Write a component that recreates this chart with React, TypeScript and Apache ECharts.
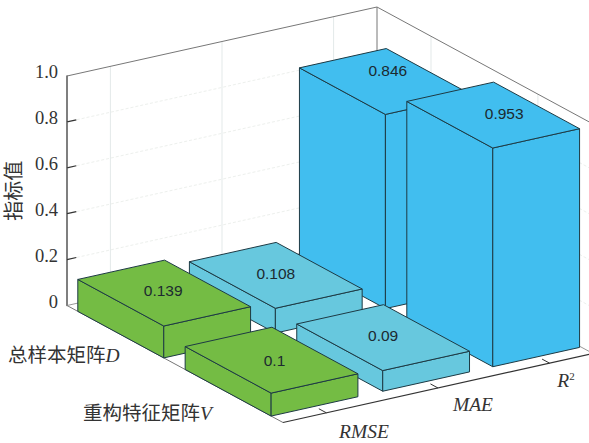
import React, { useEffect, useRef } from "react";
import * as echarts from "echarts";

const rowNames = ["总样本矩阵", "重构特征矩阵"];
const rowSymbols = ["D", "V"];
const metricNames = ["RMSE", "MAE", "R"];
const zTicks = [0, 0.2, 0.4, 0.6, 0.8, 1.0];
// values[row][metric]
const sampleMatrixValues = [0.139, 0.108, 0.846];
const featureMatrixValues = [0.1, 0.09, 0.953];

// Oblique projection of the box: "b" runs along the metric edge (through the
// x axis), "a" along the row edge, the height through the y axis.
const ROW_DX = 216;
const ROW_DY = 117;
const METRIC_DY = -69;

const rowSpans = [[0.05, 0.448], [0.547, 0.945]];
const metricSpans = [[0, 0.28], [0.36, 0.64], [0.715, 0.995]];
const metricCenters = [0.14, 0.5, 0.86];
const rowCenters = [0.25, 0.745];

const barColors = ["#74BC44", "#67C8DE", "#41BEEF"];
const labelNudge: Record<string, [number, number]> = {
  "0-0": [-1, -3],
  "0-1": [0, -2],
  "0-2": [2, -11],
  "1-0": [3, 0],
  "1-1": [0, -2],
  "1-2": [11, -2],
};

const SERIF = '"Liberation Serif", "Noto Sans CJK SC", serif';

function projector(api: any) {
  return (a: number, b: number, z: number): [number, number] => {
    const p = api.coord([b, z]);
    return [p[0] + a * ROW_DX, p[1] + a * ROW_DY + b * METRIC_DY];
  };
}

const seg = (p: number[], q: number[], stroke: string, width = 1, dash?: number[]) => ({
  type: "line",
  shape: { x1: p[0], y1: p[1], x2: q[0], y2: q[1] },
  style: { stroke, lineWidth: width, lineDash: dash, fill: null },
});

function renderFrame(_: any, api: any) {
  const P = projector(api);
  const children: any[] = [];
  const wall = "#e3e9e9";
  const gridH = "#edf0ed";

  // Wall gridlines
  metricCenters.forEach((b) => children.push(seg(P(0, b, 0), P(0, b, 1), wall)));
  rowCenters.forEach((a) => children.push(seg(P(a, 1, 0), P(a, 1, 1), wall)));
  zTicks.slice(1, -1).forEach((z) => {
    children.push(seg(P(0, 0, z), P(0, 1, z), gridH, 1, [3, 2]));
    children.push(seg(P(0, 1, z), P(1, 1, z), gridH, 1, [3, 2]));
  });

  // Floor outline
  children.push(seg(P(0, 0, 0), P(0, 1, 0), "#999"));
  children.push(seg(P(0, 1, 0), P(1, 1, 0), "#999"));
  children.push(seg(P(0, 0, 0), P(1, 0, 0), "#777"));
  children.push(seg(P(1, 0, 0), P(1, 1, 0), "#333", 1.2));

  // Top frame of the walls
  children.push(seg(P(0, 0, 1), P(0, 1, 1), "#777"));
  children.push(seg(P(0, 1, 1), P(1, 1, 1), "#777"));
  children.push(seg(P(0, 1, 0), P(0, 1, 1), "#777"));

  // Height ticks point into the wall, metric ticks into the floor
  zTicks.slice(1, -1).forEach((z) => children.push(seg(P(0, 0, z), P(0, 0.03, z), "#333", 1.2)));
  metricCenters.forEach((b) => children.push(seg(P(1, b, 0), P(0.965, b, 0), "#333", 1)));

  return { type: "group", children };
}

function renderBar(_: any, api: any) {
  const P = projector(api);
  const r = api.value(0);
  const m = api.value(1);
  const v = api.value(2);
  const [a0, a1] = rowSpans[r];
  const [b0, b1] = metricSpans[m];
  const fill = barColors[m];
  const edge = "#1d3a44";
  const face = (pts: number[][]) => ({
    type: "polygon",
    shape: { points: pts },
    style: { fill, stroke: edge, lineWidth: 1, lineJoin: "round" },
  });
  const center = P((a0 + a1) / 2, (b0 + b1) / 2, v);
  const nudge = labelNudge[`${r}-${m}`];
  return {
    type: "group",
    children: [
      face([P(a0, b0, 0), P(a1, b0, 0), P(a1, b0, v), P(a0, b0, v)]),
      face([P(a1, b0, 0), P(a1, b1, 0), P(a1, b1, v), P(a1, b0, v)]),
      face([P(a0, b0, v), P(a1, b0, v), P(a1, b1, v), P(a0, b1, v)]),
      {
        type: "text",
        style: {
          text: String(v),
          x: center[0] + nudge[0],
          y: center[1] + nudge[1],
          align: "center",
          verticalAlign: "middle",
          fill: "#1c2a30",
          font: '15.5px "Liberation Sans", Arial, sans-serif',
        },
      },
    ],
  };
}

function App() {
  const ref = useRef<HTMLDivElement>(null);

  useEffect(() => {
    const chart = echarts.init(ref.current!, null, { renderer: "svg" });
    // Painter's order: far row first, and within a row the far metric first
    const barData: number[][] = [];
    [sampleMatrixValues, featureMatrixValues].forEach((vals, r) => {
      [2, 1, 0].forEach((m) => barData.push([r, m, vals[m]]));
    });
    const serifRich = {
      c: { fontFamily: SERIF, fontSize: 19.5, fill: "#333", color: "#333" },
      i: { fontFamily: SERIF, fontSize: 19.5, fontStyle: "italic", fill: "#333", color: "#333" },
      s: { fontFamily: SERIF, fontSize: 11, fill: "#333", color: "#333", padding: [0, 0, 9, 0] },
    };
    const catText = (i: number, x: number, y: number) => ({
      type: "text",
      x,
      y,
      style: {
        text: `{c|${rowNames[i]}}{i|${rowSymbols[i]}}`,
        rich: serifRich,
        align: "left",
        verticalAlign: "middle",
      },
    });
    const metricText = (text: string, x: number, y: number) => ({
      type: "text",
      x,
      y,
      style: {
        text,
        rich: serifRich,
        align: "center",
        verticalAlign: "middle",
      },
    });
    chart.setOption({
      animation: false,
      backgroundColor: "#fff",
      grid: { left: 67, top: 76, width: 310, height: 229.5, outerBoundsMode: "none" },
      xAxis: { type: "value", min: 0, max: 1, show: false },
      yAxis: {
        type: "value",
        min: 0,
        max: 1,
        interval: 0.2,
        name: "指标值",
        nameLocation: "middle",
        nameGap: 37,
        nameRotate: 90,
        nameTextStyle: { fontFamily: SERIF, fontSize: 20, color: "#333" },
        axisLine: { show: true, lineStyle: { color: "#555", width: 1.5 } },
        axisTick: { show: false },
        splitLine: { show: false },
        axisLabel: {
          color: "#333",
          fontFamily: SERIF,
          fontSize: 18.5,
          margin: 9,
          verticalAlign: "bottom",
          lineHeight: 8,
          formatter: (val: number) => (val === 0 ? "0" : val.toFixed(1)),
        },
      },
      graphic: [
        catText(0, 8, 355),
        catText(1, 83, 413),
        metricText(`{i|${metricNames[0]}}`, 364, 431),
        metricText(`{i|${metricNames[1]}}`, 473, 404),
        metricText(`{i|${metricNames[2]}}{s|2}`, 566, 380),
      ],
      series: [
        {
          type: "custom",
          coordinateSystem: "cartesian2d",
          renderItem: renderFrame,
          data: [[0, 0]],
          clip: false,
          silent: true,
          z: 1,
        },
        {
          type: "custom",
          coordinateSystem: "cartesian2d",
          renderItem: renderBar,
          data: barData,
          encode: { x: [], y: 2 },
          clip: false,
          silent: true,
          z: 2,
        },
      ],
    });
    return () => chart.dispose();
  }, []);

  return (
    <div
      ref={ref}
      style={{ position: "fixed", left: 0, top: 0, width: 589, height: 443 }}
    />
  );
}

export default App;
